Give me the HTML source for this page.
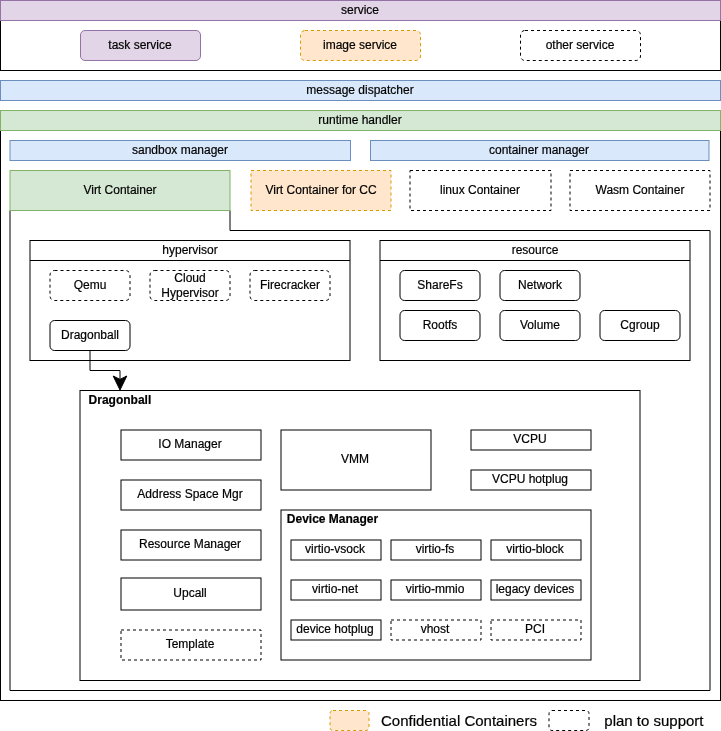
<!DOCTYPE html>
<html><head><meta charset="utf-8"><style>
html,body{margin:0;padding:0;background:#fff;overflow:hidden;}
svg{display:block;}
text{font-family:"Liberation Sans",sans-serif;fill:#000;stroke:#000;stroke-width:0.2px;}
</style></head><body>
<svg width="721" height="731" viewBox="0 0 721 731">
<rect x="0.5" y="20.5" width="720.0" height="50.0" fill="#ffffff" stroke="#000000"/>
<rect x="0.5" y="0.5" width="720.0" height="20.0" fill="#e1d5e7" stroke="#9673a6"/>
<rect x="80.5" y="30.5" width="120.0" height="30.0" fill="#e1d5e7" stroke="#9673a6" rx="4.5" ry="4.5"/>
<rect x="300.5" y="30.5" width="120.0" height="30.0" fill="#ffe6cc" stroke="#d79b00" rx="4.5" ry="4.5" stroke-dasharray="3 3"/>
<rect x="520.5" y="30.5" width="120.0" height="30.0" fill="#ffffff" stroke="#000000" rx="4.5" ry="4.5" stroke-dasharray="3 3"/>
<rect x="0.5" y="80.5" width="720.0" height="20.0" fill="#dae8fc" stroke="#6c8ebf"/>
<rect x="0.5" y="130.5" width="720.0" height="570.0" fill="#ffffff" stroke="#000000"/>
<rect x="0.5" y="110.5" width="720.0" height="20.0" fill="#d5e8d4" stroke="#82b366"/>
<rect x="10" y="140.5" width="340.5" height="20.0" fill="#dae8fc" stroke="#6c8ebf"/>
<rect x="370.5" y="140.5" width="338.5" height="20.0" fill="#dae8fc" stroke="#6c8ebf"/>
<path d="M10 210.5 V690.5 H710 V230.5 H230 V210.5" fill="none" stroke="#000"/>
<rect x="10" y="170.5" width="220" height="40.0" fill="#d5e8d4" stroke="#82b366"/>
<rect x="251" y="170.5" width="140" height="40.0" fill="#ffe6cc" stroke="#d79b00" stroke-dasharray="3 3"/>
<rect x="410" y="170.5" width="141" height="40.0" fill="#ffffff" stroke="#000000" stroke-dasharray="3 3"/>
<rect x="570" y="170.5" width="140" height="40.0" fill="#ffffff" stroke="#000000" stroke-dasharray="3 3"/>
<rect x="30" y="240.5" width="320" height="120.0" fill="#ffffff" stroke="#000000"/>
<path d="M30 260.5 H350" stroke="#000"/>
<rect x="50" y="270.5" width="80" height="30.0" fill="#ffffff" stroke="#000000" rx="4.5" ry="4.5" stroke-dasharray="3 3"/>
<rect x="150" y="270.5" width="80" height="30.0" fill="#ffffff" stroke="#000000" rx="4.5" ry="4.5" stroke-dasharray="3 3"/>
<rect x="250" y="270.5" width="80" height="30.0" fill="#ffffff" stroke="#000000" rx="4.5" ry="4.5" stroke-dasharray="3 3"/>
<rect x="50" y="320.5" width="80" height="30.0" fill="#ffffff" stroke="#000000" rx="4.5" ry="4.5"/>
<rect x="380" y="240.5" width="310" height="120.0" fill="#ffffff" stroke="#000000"/>
<path d="M380 260.5 H690" stroke="#000"/>
<rect x="400" y="270.5" width="80" height="30.0" fill="#ffffff" stroke="#000000" rx="4.5" ry="4.5"/>
<rect x="500" y="270.5" width="80" height="30.0" fill="#ffffff" stroke="#000000" rx="4.5" ry="4.5"/>
<rect x="400" y="310.5" width="80" height="30.0" fill="#ffffff" stroke="#000000" rx="4.5" ry="4.5"/>
<rect x="500" y="310.5" width="80" height="30.0" fill="#ffffff" stroke="#000000" rx="4.5" ry="4.5"/>
<rect x="600" y="310.5" width="80" height="30.0" fill="#ffffff" stroke="#000000" rx="4.5" ry="4.5"/>
<path d="M90 350.5 V370.5 H120 V381" fill="none" stroke="#000"/>
<path d="M113.2 376 L120 390 L126.8 376 L120 379.4 Z" fill="#000" stroke="#000" stroke-linejoin="miter"/>
<rect x="80" y="390.5" width="560" height="290.0" fill="#ffffff" stroke="#000000"/>
<rect x="121" y="430" width="140" height="30" fill="#ffffff" stroke="#000000"/>
<rect x="121" y="480" width="140" height="30" fill="#ffffff" stroke="#000000"/>
<rect x="121" y="530" width="140" height="30" fill="#ffffff" stroke="#000000"/>
<rect x="121" y="578" width="140" height="32" fill="#ffffff" stroke="#000000"/>
<rect x="121" y="630" width="140" height="30" fill="#ffffff" stroke="#000000" stroke-dasharray="3 3"/>
<rect x="281" y="430" width="150" height="60" fill="#ffffff" stroke="#000000"/>
<rect x="471" y="430" width="120" height="20" fill="#ffffff" stroke="#000000"/>
<rect x="471" y="470" width="120" height="20" fill="#ffffff" stroke="#000000"/>
<rect x="281" y="510" width="310" height="150" fill="#ffffff" stroke="#000000"/>
<rect x="291" y="540" width="90" height="20" fill="#ffffff" stroke="#000000"/>
<rect x="391" y="540" width="90" height="20" fill="#ffffff" stroke="#000000"/>
<rect x="491" y="540" width="90" height="20" fill="#ffffff" stroke="#000000"/>
<rect x="291" y="580" width="90" height="20" fill="#ffffff" stroke="#000000"/>
<rect x="391" y="580" width="90" height="20" fill="#ffffff" stroke="#000000"/>
<rect x="491" y="580" width="90" height="20" fill="#ffffff" stroke="#000000"/>
<rect x="291" y="620" width="90" height="20" fill="#ffffff" stroke="#000000"/>
<rect x="391" y="620" width="90" height="20" fill="#ffffff" stroke="#000000" stroke-dasharray="3 3"/>
<rect x="491" y="620" width="90" height="20" fill="#ffffff" stroke="#000000" stroke-dasharray="3 3"/>
<rect x="330" y="710.5" width="39" height="20.0" fill="#ffe6cc" stroke="#d79b00" rx="3" ry="3" stroke-dasharray="3 3"/>
<rect x="549" y="710.5" width="40" height="20.0" fill="#ffffff" stroke="#000000" rx="3" ry="3" stroke-dasharray="3 3"/>
<g style="will-change:transform">
<text x="360" y="14" font-size="12" text-anchor="middle">service</text>
<text x="140" y="49" font-size="12" text-anchor="middle">task service</text>
<text x="360" y="49" font-size="12" text-anchor="middle">image service</text>
<text x="580" y="49" font-size="12" text-anchor="middle">other service</text>
<text x="360" y="94" font-size="12" text-anchor="middle">message dispatcher</text>
<text x="360" y="124" font-size="12" text-anchor="middle">runtime handler</text>
<text x="180" y="154" font-size="12" text-anchor="middle">sandbox manager</text>
<text x="539" y="154" font-size="12" text-anchor="middle">container manager</text>
<text x="120" y="194" font-size="12" text-anchor="middle">Virt Container</text>
<text x="321" y="194" font-size="12" text-anchor="middle">Virt Container for CC</text>
<text x="480" y="194" font-size="12" text-anchor="middle">linux Container</text>
<text x="640" y="194" font-size="12" text-anchor="middle">Wasm Container</text>
<text x="190" y="254" font-size="12" text-anchor="middle">hypervisor</text>
<text x="90" y="289" font-size="12" text-anchor="middle">Qemu</text>
<text x="190" y="282" font-size="12" text-anchor="middle">Cloud</text>
<text x="190" y="297" font-size="12" text-anchor="middle">Hypervisor</text>
<text x="290" y="289" font-size="12" text-anchor="middle">Firecracker</text>
<text x="90" y="339" font-size="12" text-anchor="middle">Dragonball</text>
<text x="535" y="254" font-size="12" text-anchor="middle">resource</text>
<text x="440" y="289" font-size="12" text-anchor="middle">ShareFs</text>
<text x="540" y="289" font-size="12" text-anchor="middle">Network</text>
<text x="440" y="329" font-size="12" text-anchor="middle">Rootfs</text>
<text x="540" y="329" font-size="12" text-anchor="middle">Volume</text>
<text x="640" y="329" font-size="12" text-anchor="middle">Cgroup</text>
<text x="88.6" y="404" font-size="12" text-anchor="start" font-weight="bold">Dragonball</text>
<text x="190" y="448" font-size="12" text-anchor="middle">IO Manager</text>
<text x="190" y="498" font-size="12" text-anchor="middle">Address Space Mgr</text>
<text x="190" y="548" font-size="12" text-anchor="middle">Resource Manager</text>
<text x="190" y="597" font-size="12" text-anchor="middle">Upcall</text>
<text x="190" y="648" font-size="12" text-anchor="middle">Template</text>
<text x="355" y="463" font-size="12" text-anchor="middle">VMM</text>
<text x="530" y="443" font-size="12" text-anchor="middle">VCPU</text>
<text x="530" y="483" font-size="12" text-anchor="middle">VCPU hotplug</text>
<text x="286.8" y="523" font-size="12" text-anchor="start" font-weight="bold">Device Manager</text>
<text x="335" y="553" font-size="12" text-anchor="middle">virtio-vsock</text>
<text x="435" y="553" font-size="12" text-anchor="middle">virtio-fs</text>
<text x="535" y="553" font-size="12" text-anchor="middle">virtio-block</text>
<text x="335" y="593" font-size="12" text-anchor="middle">virtio-net</text>
<text x="435" y="593" font-size="12" text-anchor="middle">virtio-mmio</text>
<text x="535" y="593" font-size="12" text-anchor="middle">legacy devices</text>
<text x="335" y="633" font-size="12" text-anchor="middle">device hotplug</text>
<text x="435" y="633" font-size="12" text-anchor="middle">vhost</text>
<text x="535" y="633" font-size="12" text-anchor="middle">PCI</text>
<text x="381" y="726" font-size="15" text-anchor="start">Confidential Containers</text>
<text x="604.3" y="726" font-size="15" text-anchor="start">plan to support</text>
</g>
</svg>
</body></html>
